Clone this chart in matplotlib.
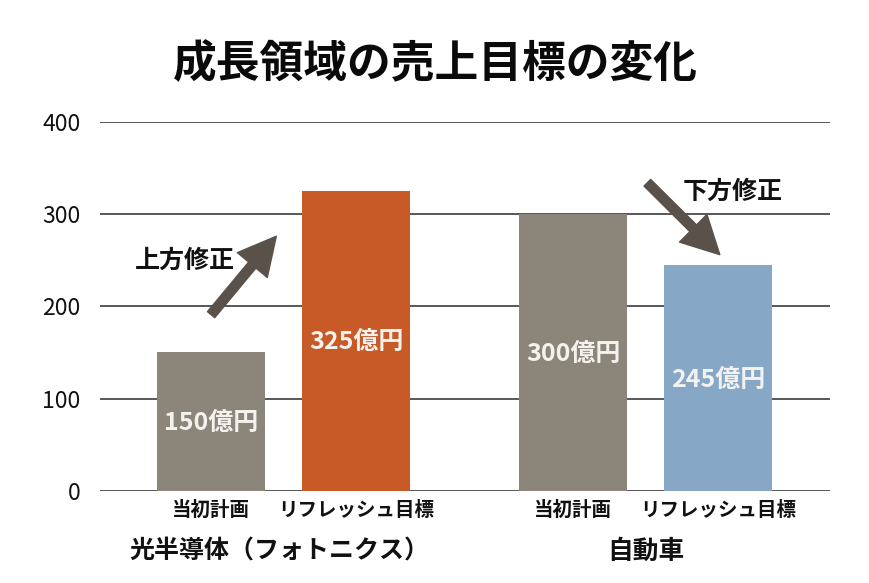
import matplotlib
matplotlib.use("Agg")
import matplotlib.pyplot as plt
from matplotlib.patches import FancyArrowPatch

plt.rcParams['font.family'] = ['Noto Sans CJK JP', 'DejaVu Sans']

categories = ["当初計画", "リフレッシュ目標", "当初計画", "リフレッシュ目標"]
groups = ["光半導体（フォトニクス）", "自動車"]
values = [150, 325, 300, 245]
value_labels = ["150億円", "325億円", "300億円", "245億円"]
yticks = [0, 100, 200, 300, 400]
positions = [0, 1, 2.5, 3.5]
colors = ["#8c857a", "#c85a28", "#8c857a", "#87a7c7"]

fig = plt.figure(figsize=(8.7, 5.83), dpi=100)
ax = fig.add_axes([0.115, 0.158, 0.839, 0.633])
ax.set_ylim(0, 400)
ax.set_xlim(-0.766, 4.27)

for y in yticks:
    ax.axhline(y, color="#2a2a2a", lw=1.1, zorder=1)

ax.bar(positions, values, width=0.745, color=colors, zorder=2)

label_y = [74, 161, 148, 120]
for p, ly, lab in zip(positions, label_y, value_labels):
    ax.text(p, ly, lab, ha="center", va="center",
            color="#f4f2ee", fontsize=18, fontweight="bold", zorder=3)

ax.set_yticks(yticks)
ax.set_yticklabels([str(t) for t in yticks], fontsize=16.5, color="#111111")
ax.tick_params(axis="y", length=0, pad=14)
ax.set_xticks(positions)
ax.set_xticklabels(categories, fontsize=14, fontweight="bold", color="#111111")
ax.tick_params(axis="x", length=0, pad=7)
for s in ax.spines.values():
    s.set_visible(False)

# group labels
ax.text((positions[0] + positions[1]) / 2 - 0.03, -0.165, groups[0], transform=ax.get_xaxis_transform(),
        ha="center", va="center", fontsize=18, fontweight="bold", color="#111111")
ax.text((positions[2] + positions[3]) / 2, -0.165, groups[1], transform=ax.get_xaxis_transform(),
        ha="center", va="center", fontsize=18.5, fontweight="bold", color="#111111")

arrow_color = "#5a524a"
style = "simple,head_width=1.4,head_length=1.35,tail_width=0.34"
a1 = FancyArrowPatch((0.0, 191), (0.45, 276), arrowstyle=style, mutation_scale=20,
                     color=arrow_color, zorder=4, shrinkA=0, shrinkB=0)
ax.add_patch(a1)
a2 = FancyArrowPatch((3.01, 334), (3.51, 256), arrowstyle=style, mutation_scale=20,
                     color=arrow_color, zorder=4, shrinkA=0, shrinkB=0)
ax.add_patch(a2)

ax.text(-0.18, 249, "上方修正", ha="center", va="center", fontsize=18, fontweight="bold", color="#111111")
ax.text(3.6, 324, "下方修正", ha="center", va="center", fontsize=18, fontweight="bold", color="#111111")

fig.text(0.5, 0.89, "成長領域の売上目標の変化", ha="center", va="center",
         fontsize=31.5, fontweight="bold", color="#0a0a0a")

fig.savefig("out.png", dpi=100, facecolor="white")
